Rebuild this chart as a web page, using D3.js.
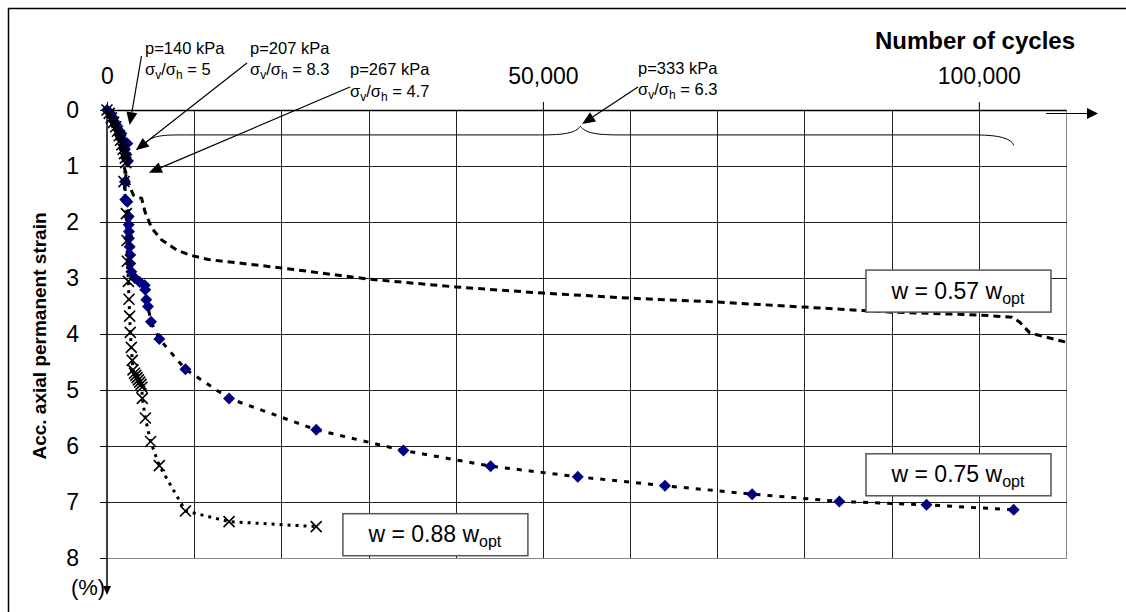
<!DOCTYPE html>
<html>
<head>
<meta charset="utf-8">
<script src="https://cdn.jsdelivr.net/npm/d3@7"></script>
<style>
  html, body { margin: 0; padding: 0; background: #fff; }
  svg { display: block; font-family: "Liberation Sans", Arial, sans-serif; }
</style>
</head>
<body>
<svg id="chart" width="1126" height="612"></svg>
<script>
// ---- data: number of load cycles vs accumulated axial permanent strain (%) ----
const cyc057 = [0, 300, 570, 800, 1030, 1250, 1490, 1650, 1830, 1950, 2180, 2560, 3020, 3980, 4360, 5130, 6270, 7990, 9520, 11620, 20000, 30000, 40000, 50000, 60000, 70000, 80000, 90000, 100000, 103800, 104700, 105850, 107570, 110400];
const eps057 = [0, 0.1, 0.27, 0.36, 0.45, 0.53, 0.62, 0.7, 0.8, 1.01, 1.13, 1.34, 1.52, 1.58, 1.82, 2.11, 2.32, 2.5, 2.59, 2.67, 2.82, 3.02, 3.16, 3.27, 3.36, 3.43, 3.52, 3.61, 3.66, 3.70, 3.79, 3.98, 4.05, 4.16];

const cyc075 = [0, 300, 580, 800, 1070, 1340, 1640, 1720, 2330, 2030, 2220, 2410, 2060, 2100, 2330, 2490, 2490, 2520, 2520, 2600, 2670, 2670, 2790, 3180, 3750, 4320, 4390, 4500, 4700, 5050, 6000, 9000, 14000, 24000, 34000, 44000, 54000, 64000, 74000, 84000, 94000, 104000];
const eps075 = [0, 0.05, 0.12, 0.2, 0.27, 0.36, 0.42, 0.52, 0.6, 0.71, 0.8, 0.91, 1.28, 1.6, 1.64, 1.9, 2.05, 2.17, 2.29, 2.44, 2.59, 2.74, 2.89, 3.0, 3.07, 3.13, 3.21, 3.39, 3.51, 3.78, 4.09, 4.63, 5.15, 5.71, 6.08, 6.36, 6.55, 6.71, 6.86, 6.99, 7.05, 7.14];

const cyc088 = [0, 250, 500, 750, 1000, 1200, 1400, 1550, 1700, 1850, 2000, 2100, 2150, 1950, 2220, 2300, 2330, 2450, 2520, 2600, 2670, 2790, 2900, 2980, 3150, 3300, 3450, 3600, 3750, 3900, 4000, 4050, 4400, 5000, 6000, 9000, 14000, 24000];
const eps088 = [0, 0.06, 0.14, 0.22, 0.3, 0.38, 0.46, 0.54, 0.62, 0.7, 0.78, 0.86, 0.94, 1.28, 1.85, 2.33, 2.7, 3.06, 3.38, 3.68, 3.97, 4.24, 4.47, 4.64, 4.7, 4.74, 4.78, 4.82, 4.86, 4.9, 4.95, 5.15, 5.5, 5.92, 6.35, 7.16, 7.35, 7.44];

const xTickValues = [0, 50000, 100000];
const xTickLabels = ["0", "50,000", "100,000"];
const yTickValues = [0, 1, 2, 3, 4, 5, 6, 7, 8];

// loading stages: label lines and where each arrow points (cycles, strain)
const stageP = ["p=140 kPa", "p=207 kPa", "p=267 kPa", "p=333 kPa"];
const stageRatio = ["5", "8.3", "4.7", "6.3"];
const stageTarget = [[2600, 0.27], [3300, 0.72], [4800, 1.12], [54500, 0.25]];

// moisture content labels
const boxLabels = ["0.57", "0.75", "0.88"];

// ---- layout ----
const svg = d3.select("#chart");
const W = 1126, H = 612;
const x = d3.scaleLinear().domain([0, 110000]).range([107, 1066]);
const y = d3.scaleLinear().domain([0, 8]).range([110, 558]);
const FONT = "'Liberation Sans', Arial, sans-serif";

svg.append("rect").attr("width", W).attr("height", H).attr("fill", "#fff");

// outer frame
svg.append("path").attr("d", `M8.5,${H} V8.5 H${W}`)
  .attr("fill", "none").attr("stroke", "#000").attr("stroke-width", 1.5);

// grid
const grid = svg.append("g").attr("shape-rendering", "crispEdges");
grid.selectAll("line.v").data(d3.range(10000, 110001, 10000)).join("line")
  .attr("x1", d => Math.round(x(d)) + 0.5).attr("x2", d => Math.round(x(d)) + 0.5)
  .attr("y1", y(0)).attr("y2", y(8))
  .attr("stroke", d => d === 110000 ? "#888" : "#222").attr("stroke-width", 1);
grid.selectAll("line.h").data(d3.range(1, 9)).join("line")
  .attr("x1", x(0)).attr("x2", x(110000) + 1)
  .attr("y1", d => Math.round(y(d)) + 0.5).attr("y2", d => Math.round(y(d)) + 0.5)
  .attr("stroke", d => d === 8 ? "#888" : "#222").attr("stroke-width", 1);

// axes
const xAxis = d3.axisTop(x).tickValues(xTickValues).tickFormat((d, i) => xTickLabels[i])
  .tickSize(8).tickSizeOuter(0).tickPadding(18);
const gx = svg.append("g").attr("transform", `translate(0,${y(0)})`).call(xAxis);
gx.select(".domain").attr("stroke", "#000").attr("stroke-width", 1.5);
gx.selectAll(".tick line").attr("stroke", "#000");
gx.selectAll(".tick text").attr("font-size", 23).attr("fill", "#000").attr("font-family", FONT);

const yAxis = d3.axisLeft(y).tickValues(yTickValues).tickSize(7).tickSizeOuter(0).tickPadding(21);
const gy = svg.append("g").attr("transform", `translate(${x(0)},0)`).call(yAxis);
gy.select(".domain").attr("stroke", "#000").attr("stroke-width", 1.5)
  .attr("d", `M0,${y(0)}V${y(8) + 30}`);
gy.selectAll(".tick line").attr("stroke", "#000");
gy.selectAll(".tick text").attr("font-size", 23).attr("fill", "#000").attr("font-family", FONT);

// axis arrows
svg.append("path").attr("d", `M${x(0) - 4},${y(8) + 28} L${x(0) + 4},${y(8) + 28} L${x(0)},${y(8) + 37} Z`).attr("fill", "#000");
svg.append("line").attr("x1", x(110000) - 20).attr("x2", x(110000) + 24)
  .attr("y1", y(0) + 3.5).attr("y2", y(0) + 3.5).attr("stroke", "#000").attr("stroke-width", 1.2);
svg.append("path").attr("d", `M${x(110000) + 21},${y(0) - 2} L${x(110000) + 32},${y(0) + 3.5} L${x(110000) + 21},${y(0) + 9} Z`).attr("fill", "#000");

// axis titles
svg.append("text").attr("x", 975).attr("y", 49).attr("text-anchor", "middle")
  .attr("font-size", 24).attr("font-weight", "bold").text("Number of cycles");
svg.append("text").attr("transform", `translate(46,${(y(0) + y(8)) / 2 + 2}) rotate(-90)`)
  .attr("text-anchor", "middle").attr("font-size", 19).attr("font-weight", "bold")
  .text("Acc. axial permanent strain");
svg.append("text").attr("x", 88).attr("y", y(8) + 37).attr("text-anchor", "middle")
  .attr("font-size", 22).text("(%)");

// ---- series ----
const pts = (cx, ey) => cx.map((c, i) => [c, ey[i]]);
const s057 = pts(cyc057, eps057), s075 = pts(cyc075, eps075), s088 = pts(cyc088, eps088);
const line = d3.line().x(d => x(d[0])).y(d => y(d[1]));

svg.append("path").datum(s057).attr("d", line).attr("fill", "none")
  .attr("stroke", "#000").attr("stroke-width", 3).attr("stroke-dasharray", "7,5");
svg.append("path").datum(s075).attr("d", line).attr("fill", "none")
  .attr("stroke", "#000").attr("stroke-width", 3).attr("stroke-dasharray", "5,7");
svg.append("path").datum(s088).attr("d", line).attr("fill", "none")
  .attr("stroke", "#000").attr("stroke-width", 3).attr("stroke-dasharray", "3,5");

// diamonds
svg.append("g").selectAll("path").data(s075).join("path")
  .attr("transform", d => `translate(${x(d[0])},${y(d[1])})`)
  .attr("d", "M0,-6 L6,0 L0,6 L-6,0 Z").attr("fill", "#000080");

// crosses
svg.append("g").selectAll("path").data(s088).join("path")
  .attr("transform", d => `translate(${x(d[0])},${y(d[1])})`)
  .attr("d", "M-5.5,-5.5 L5.5,5.5 M-5.5,5.5 L5.5,-5.5")
  .attr("stroke", "#000").attr("stroke-width", 1.6).attr("fill", "none");

// ---- annotations ----
const stagePos = [[145, 54], [250, 54], [350, 75], [638, 74]];
const stageGap = [21, 21, 22, 21];
const ann = svg.append("g").attr("font-size", 16.5);
stagePos.forEach((p, i) => {
  ann.append("text").attr("x", p[0]).attr("y", p[1]).text(stageP[i]);
  const t = ann.append("text").attr("x", p[0]).attr("y", p[1] + stageGap[i]);
  t.append("tspan").text("σ");
  t.append("tspan").attr("font-size", 12).attr("dy", 4).text("v");
  t.append("tspan").attr("dy", -4).text("/σ");
  t.append("tspan").attr("font-size", 12).attr("dy", 4).text("h");
  t.append("tspan").attr("dy", -4).text(" = " + stageRatio[i]);
});

// arrows from labels to loading stages
const arrowFrom = [[141.5, 56], [247, 63], [350, 87], [638, 87]];
stageTarget.forEach((tg, i) => {
  const tx = x(tg[0]), ty = y(tg[1]);
  const [fx, fy] = arrowFrom[i];
  const ang = Math.atan2(ty - fy, tx - fx);
  const L = 13, hw = 5.5;
  const bx = tx - L * Math.cos(ang), by = ty - L * Math.sin(ang);
  svg.append("line").attr("x1", fx).attr("y1", fy).attr("x2", bx).attr("y2", by)
    .attr("stroke", "#000").attr("stroke-width", 1.2);
  svg.append("path").attr("fill", "#000").attr("d",
    `M${tx},${ty} L${bx - hw * Math.sin(ang)},${by + hw * Math.cos(ang)} L${bx + hw * Math.sin(ang)},${by - hw * Math.cos(ang)} Z`);
});

// curly brace spanning the last loading stage
const bL = x(4300), bR = x(104000), bM = x(54300);
const yb = y(0.445), ye = y(0.63), yc = y(0.29);
svg.append("path").attr("fill", "none").attr("stroke", "#000").attr("stroke-width", 1)
  .attr("d", `M${bL},${ye} C${bL + 5},${yb} ${bL + 20},${yb} ${bL + 40},${yb}
              L${bM - 40},${yb} C${bM - 15},${yb} ${bM - 5},${yb - 2} ${bM},${yc}
              C${bM + 5},${yb - 2} ${bM + 15},${yb} ${bM + 40},${yb}
              L${bR - 40},${yb} C${bR - 20},${yb} ${bR - 3},${yb + 2} ${bR},${ye}`);

// moisture content boxes: [x0 cycles, top strain]
const boxAt = [[87000, 2.85], [87000, 6.13], [27000, 7.2]];
boxLabels.forEach((lab, i) => {
  const x0 = x(boxAt[i][0]), y0 = y(boxAt[i][1]);
  const g = svg.append("g");
  g.append("rect").attr("x", x0 + 0.5).attr("y", y0 + 0.5).attr("width", 185).attr("height", 42)
    .attr("fill", "#fff").attr("stroke", "#555").attr("stroke-width", 1.5);
  const t = g.append("text").attr("x", x0 + 92.5).attr("y", y0 + 29).attr("text-anchor", "middle")
    .attr("font-size", 23);
  t.append("tspan").text(`w = ${lab} w`);
  t.append("tspan").attr("font-size", 16).attr("dy", 5).text("opt");
});
</script>
</body>
</html>
